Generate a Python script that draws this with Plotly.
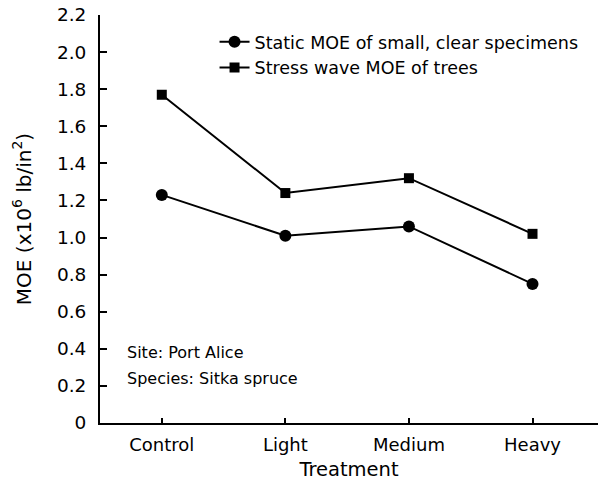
import plotly.graph_objects as go

tratamientos = ["Control", "Light", "Medium", "Heavy"]
moe_estatico = [1.23, 1.01, 1.06, 0.75]
moe_onda = [1.77, 1.24, 1.32, 1.02]
ticks_y = [0, 0.2, 0.4, 0.6, 0.8, 1.0, 1.2, 1.4, 1.6, 1.8, 2.0, 2.2]
etiquetas_y = ["0", "0.2", "0.4", "0.6", "0.8", "1.0", "1.2", "1.4", "1.6", "1.8", "2.0", "2.2"]

FUENTE = "DejaVu Sans, Arial, sans-serif"

fig = go.Figure()

fig.add_trace(go.Scatter(
    x=tratamientos, y=moe_estatico,
    mode="lines+markers",
    name="Static MOE of small, clear specimens",
    line=dict(color="black", width=2),
    marker=dict(symbol="circle", size=12, color="black"),
))
fig.add_trace(go.Scatter(
    x=tratamientos, y=moe_onda,
    mode="lines+markers",
    name="Stress wave MOE of trees",
    line=dict(color="black", width=2),
    marker=dict(symbol="square", size=10, color="black"),
))

# notas del sitio
for texto, ypos in [("Site: Port Alice", 0.174), ("Species: Sitka spruce", 0.110)]:
    fig.add_annotation(
        text=texto, xref="paper", yref="paper", x=0.05, y=ypos,
        xanchor="left", yanchor="middle", align="left",
        showarrow=False, font=dict(size=16, color="black", family=FUENTE),
    )

fig.update_layout(
    width=601, height=489,
    paper_bgcolor="white", plot_bgcolor="white",
    font=dict(family=FUENTE, size=17, color="black"),
    margin=dict(l=100, r=3, t=15, b=66),
    legend=dict(
        x=0.23, y=0.978, xanchor="left", yanchor="top",
        bgcolor="rgba(0,0,0,0)", font=dict(size=17.5),
        itemwidth=30, tracegroupgap=0,
    ),
)
fig.update_xaxes(
    range=[-0.5, 3.53], automargin=False,
    showgrid=False, zeroline=False,
    showline=True, linecolor="black", linewidth=2,
    ticks="inside", ticklen=5, tickwidth=2, tickcolor="black",
    title=dict(text="Treatment", font=dict(size=19.5), standoff=9),
    tickfont=dict(size=18), ticklabelstandoff=4,
)
fig.update_yaxes(
    range=[0, 2.2], automargin=False,
    tickvals=ticks_y, ticktext=etiquetas_y,
    showgrid=False, zeroline=False,
    showline=True, linecolor="black", linewidth=2,
    ticks="inside", ticklen=7, tickwidth=2, tickcolor="black",
    title=dict(text="MOE (x10<sup>6</sup> lb/in<sup>2</sup>)", font=dict(size=20), standoff=20),
    tickfont=dict(size=18.5), ticklabelstandoff=8, ticklabeloverflow="allow",
)

# quitar el margen de 8 px del body para que la figura ocupe toda la ventana
fig.write_html(
    "out.html",
    config={"displayModeBar": False},
    post_script="document.body.style.margin='0';",
)
